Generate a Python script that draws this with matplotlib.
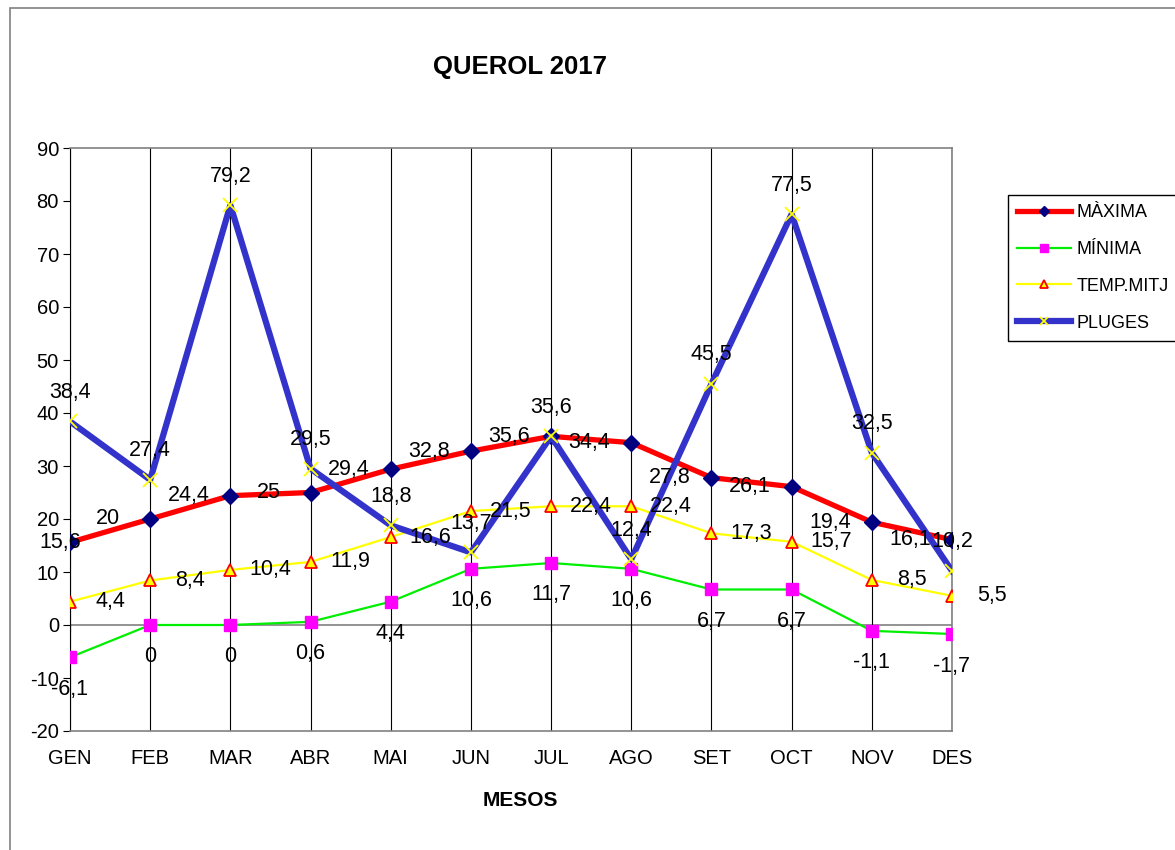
import matplotlib.pyplot as plt
from matplotlib.patches import Rectangle

mesos = ['GEN', 'FEB', 'MAR', 'ABR', 'MAI', 'JUN', 'JUL', 'AGO', 'SET', 'OCT', 'NOV', 'DES']
maxima = [15.6, 20, 24.4, 25, 29.4, 32.8, 35.6, 34.4, 27.8, 26.1, 19.4, 16.1]
minima = [-6.1, 0, 0, 0.6, 4.4, 10.6, 11.7, 10.6, 6.7, 6.7, -1.1, -1.7]
temp_mitj = [4.4, 8.4, 10.4, 11.9, 16.6, 21.5, 22.4, 22.4, 17.3, 15.7, 8.5, 5.5]
pluges = [38.4, 27.4, 79.2, 29.5, 18.8, 13.7, 35.6, 12.4, 45.5, 77.5, 32.5, 10.2]

plt.rcParams['font.family'] = ['Liberation Sans', 'DejaVu Sans']
plt.rcParams['axes.unicode_minus'] = False

fig = plt.figure(figsize=(11.75, 8.5), dpi=100)
ax = fig.add_axes([70 / 1175, 1 - 731 / 850, 882 / 1175, 583 / 850])

# chart area border
fig.patches.append(Rectangle((10 / 1175, -0.05), 1.1, 1 - 8 / 850 + 0.05,
                             transform=fig.transFigure, fill=False,
                             edgecolor='#808080', linewidth=1.2))

x = list(range(len(mesos)))

ax.plot(x, maxima, color='red', lw=3.8, marker='D', ms=8.5,
        mfc='#000080', mec='#000080', label='MÀXIMA', zorder=3)
ax.plot(x, minima, color='#00ee00', lw=1.6, marker='s', ms=8.5,
        mfc='#ff00ff', mec='#ff00ff', label='MÍNIMA', zorder=3)
ax.plot(x, temp_mitj, color='#ffff00', lw=1.6, marker='^', ms=8.5,
        mfc='#ffff00', mec='red', mew=1.3, label='TEMP.MITJ', zorder=3)
ax.plot(x, pluges, color='#3333cc', lw=4.5, marker='x', ms=10,
        mec='#ffff00', mew=1.3, label='PLUGES', zorder=4)

fs = 15.5
def fmt(v):
    return f'{v:g}'.replace('.', ',')

for i in x:
    ax.annotate(fmt(maxima[i]), (i, maxima[i]),
                xytext=(-42 if i > 0 else -10, 0), textcoords='offset pixels',
                ha='center', va='center', fontsize=fs, zorder=5)
    ax.annotate(fmt(minima[i]), (i, minima[i]),
                xytext=(0, -32), textcoords='offset pixels',
                ha='center', va='center', fontsize=fs, zorder=5)
    ax.annotate(fmt(temp_mitj[i]), (i, temp_mitj[i]),
                xytext=(40, 0), textcoords='offset pixels',
                ha='center', va='center', fontsize=fs, zorder=5)
    ax.annotate(fmt(pluges[i]), (i, pluges[i]),
                xytext=(0, 29), textcoords='offset pixels',
                ha='center', va='center', fontsize=fs, zorder=5)

ax.set_xlim(0, 11)
ax.set_ylim(-20, 90)
ax.set_yticks(range(-20, 91, 10))
ax.set_xticks(x)
ax.set_xticklabels(mesos)
ax.tick_params(axis='x', length=0, pad=13, labelsize=14.5)
ax.tick_params(axis='y', length=5, direction='out', labelsize=14.5, pad=3)
ax.grid(axis='x', color='black', lw=0.8)
ax.axhline(0, color='#808080', lw=1.2, zorder=1)
for i in x:
    ax.plot([i, i], [0, -1.2], color='black', lw=0.8, zorder=1)

for s in ['top', 'right', 'bottom']:
    ax.spines[s].set_color('#808080')
    ax.spines[s].set_linewidth(1.2)
ax.spines['left'].set_color('black')

fig.text(520 / 1175, 1 - 67 / 850, 'QUEROL 2017', ha='center', va='center',
         fontsize=18.5, fontweight='bold')
fig.text(520 / 1175, 1 - 800 / 850, 'MESOS', ha='center', va='center',
         fontsize=15, fontweight='bold')

leg = fig.legend(loc='upper left', bbox_to_anchor=(1008 / 1175, 1 - 195 / 850),
                 fontsize=13, numpoints=1, handlelength=3.0, labelspacing=1.1,
                 fancybox=False, edgecolor='black', framealpha=1, markerscale=0.6,
                 borderaxespad=0, handletextpad=0.3, borderpad=0.5)
leg.get_frame().set_linewidth(1.0)

fig.savefig('out.png', dpi=100)
